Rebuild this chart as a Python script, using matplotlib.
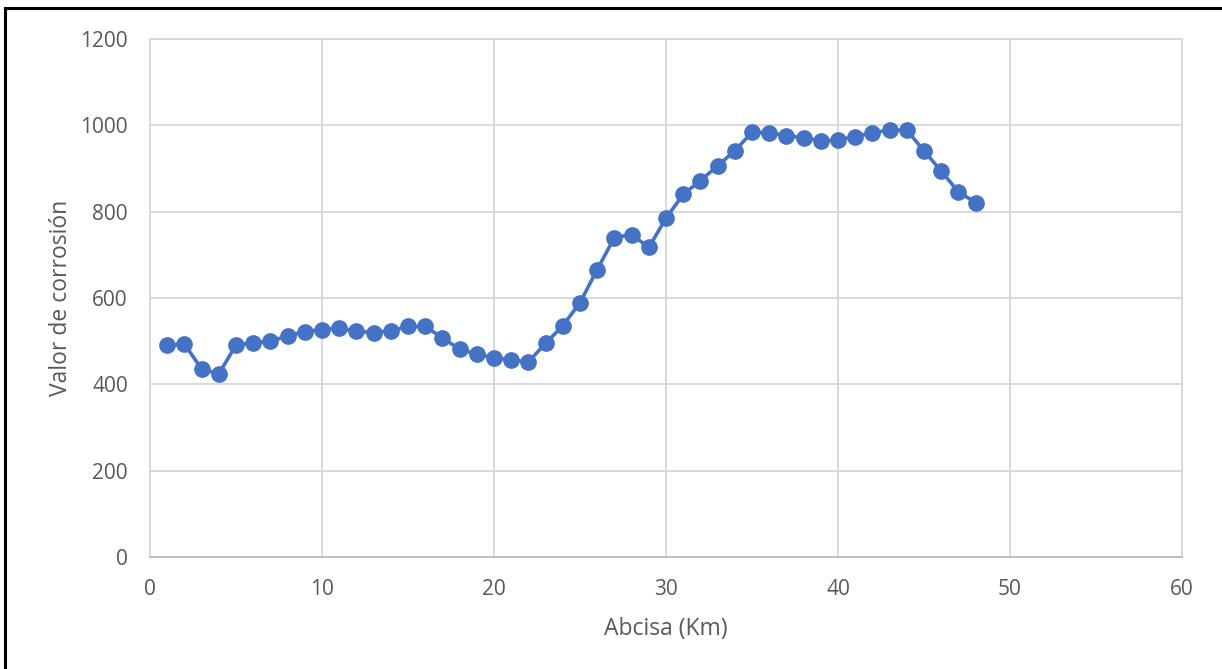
import matplotlib
matplotlib.use("Agg")
import matplotlib.pyplot as plt
from matplotlib.lines import Line2D

plt.rcParams['font.family'] = ['Open Sans', 'DejaVu Sans']

abcisa = list(range(1, 49))
corrosion = [491, 493, 436, 424, 491, 496, 500, 512, 522, 527,
             530, 523, 520, 524, 534, 534, 508, 481, 470, 462,
             456, 452, 495, 536, 589, 666, 740, 747, 717, 785,
             840, 872, 906, 941, 984, 983, 976, 971, 964, 966,
             974, 983, 989, 989, 941, 894, 846, 821]

x_ticks = [0, 10, 20, 30, 40, 50, 60]
y_ticks = [0, 200, 400, 600, 800, 1000, 1200]

blue = '#4472C4'
grey_text = '#595959'
grid_col = '#d9d9d9'

fig = plt.figure(figsize=(12.22, 6.69), dpi=100)
ax = fig.add_axes([150/1222, 1 - 557/669, (1182-150)/1222, (557-39)/669])

ax.plot(abcisa, corrosion, '-', color=blue, lw=2.6, marker='o', markersize=11,
        markerfacecolor=blue, markeredgecolor=blue, zorder=3)

ax.set_xlim(0, 60)
ax.set_ylim(0, 1200)
ax.set_xticks(x_ticks)
ax.set_yticks(y_ticks)
ax.grid(True, color=grid_col, lw=1.4)
ax.set_axisbelow(True)
for side in ['top', 'right', 'left']:
    ax.spines[side].set_color(grid_col)
    ax.spines[side].set_linewidth(1.4)
ax.spines['bottom'].set_color('#bfbfbf')
ax.spines['bottom'].set_linewidth(1.4)
ax.tick_params(length=0, labelsize=15, labelcolor=grey_text, pad=16)

ax.set_xlabel('Abcisa (Km)', fontsize=16.5, color=grey_text, labelpad=12)
ax.set_ylabel('Valor de corrosión', fontsize=16.5, color=grey_text, labelpad=5)

# black frame around the picture (left and top edges visible)
fig.add_artist(Line2D([5/1222, 5/1222], [0, 1 - 8/669], color='black', lw=2.2,
                      transform=fig.transFigure))
fig.add_artist(Line2D([5/1222, 1], [1 - 8/669, 1 - 8/669], color='black', lw=2.2,
                      transform=fig.transFigure))

fig.savefig('out.png', dpi=100)
